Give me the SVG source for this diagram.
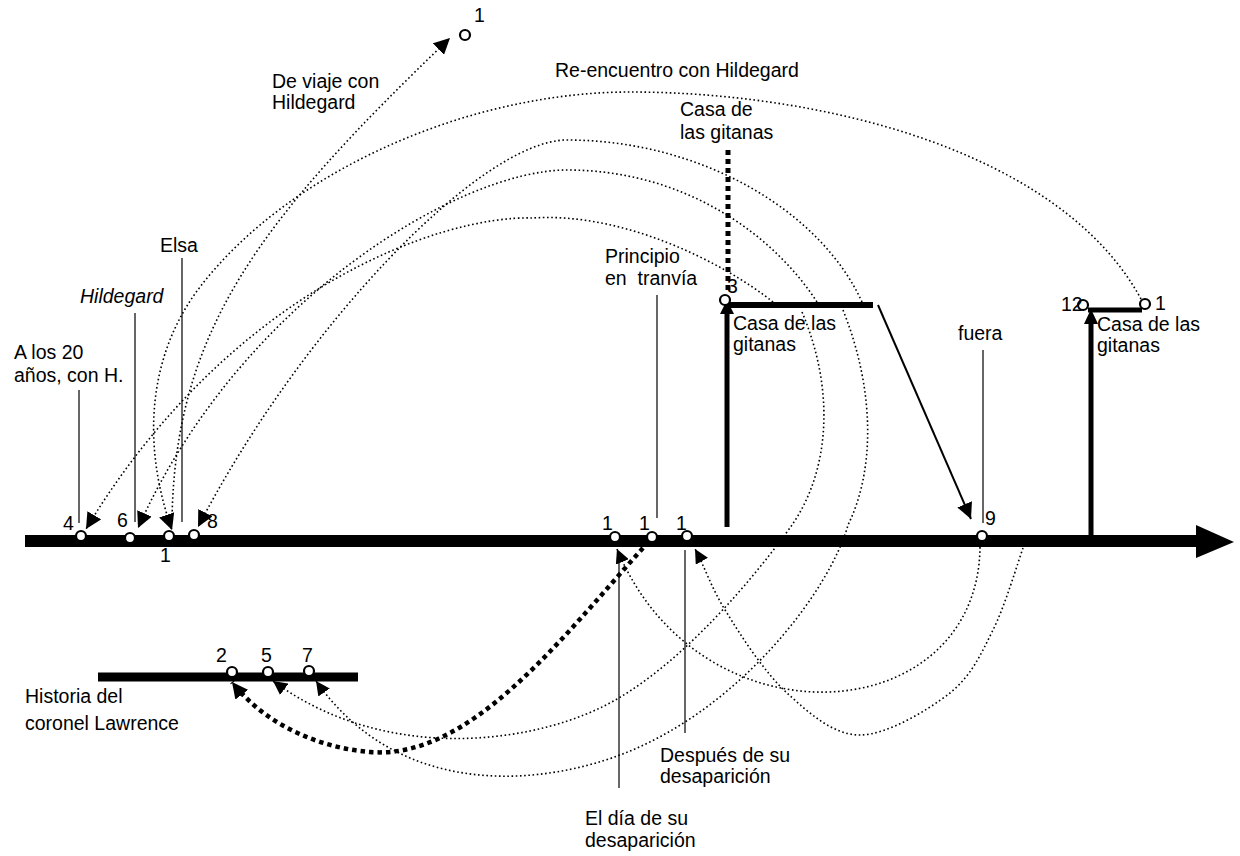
<svg xmlns="http://www.w3.org/2000/svg" width="1240" height="856" viewBox="0 0 1240 856">
<style>
.t{font-family:"Liberation Sans",Arial,Helvetica,sans-serif;font-size:19.5px;fill:#000}
.it{font-style:italic}
.dot{fill:none;stroke:#000;stroke-width:1.6;stroke-dasharray:1.6 2.6}
.tdot{fill:none;stroke:#000;stroke-width:4.5;stroke-dasharray:4.5 4}
.lead{stroke:#000;stroke-width:1.2;fill:none}
.node{fill:#fff;stroke:#000;stroke-width:2.2}
.bar{stroke:#000;fill:none}
</style>
<defs>
<marker id="ah" viewBox="0 0 16 16" markerWidth="16" markerHeight="16" refX="16" refY="8" orient="auto" markerUnits="userSpaceOnUse"><path d="M0,0 L16,8 L0,16 Z" fill="#000"/></marker>
<marker id="ahs" viewBox="0 0 16 16" markerWidth="14" markerHeight="14" refX="16" refY="8" orient="auto" markerUnits="userSpaceOnUse"><path d="M0,0 L16,8 L0,16 Z" fill="#000"/></marker>
</defs>
<rect width="1240" height="856" fill="#fff"/>

<g id="timeline">
<line class="bar" x1="25" y1="541" x2="1200" y2="541" stroke-width="12"/>
<polygon points="1196,525 1234,542 1196,558" fill="#000"/>
</g>

<g id="lawrence-line">
<line class="bar" x1="98" y1="677" x2="358" y2="677" stroke-width="9"/>
<text class="t" x="25" y="703">Historia del</text>
<text class="t" x="25" y="730">coronel Lawrence</text>
</g>

<g id="casa3">
<line class="bar" x1="727" y1="527" x2="727" y2="310" stroke-width="5"/>
<polygon points="720,314 727,300 734,314" fill="#000"/>
<line class="bar" x1="727" y1="305" x2="873" y2="305" stroke-width="6"/>
<text class="t" x="733" y="330">Casa de las</text>
<text class="t" x="733" y="351">gitanas</text>
</g>

<g id="casa12">
<line class="bar" x1="1091" y1="541" x2="1091" y2="318" stroke-width="5"/>
<polygon points="1084,324 1091,309 1098,324" fill="#000"/>
<line class="bar" x1="1088" y1="310" x2="1142" y2="310" stroke-width="5"/>
<text class="t" x="1097" y="331">Casa de las</text>
<text class="t" x="1097" y="352">gitanas</text>
</g>

<g id="casa-top">
<line x1="728" y1="150" x2="728" y2="292" stroke="#000" stroke-width="5" stroke-dasharray="5 4"/>
<text class="t" x="680" y="116">Casa de</text>
<text class="t" x="680" y="139">las gitanas</text>
</g>

<g id="n4"><circle class="node" cx="81" cy="536" r="5"/><text class="t" x="63" y="530">4</text></g>
<g id="n6"><circle class="node" cx="130" cy="538" r="5"/><text class="t" x="117" y="527">6</text></g>
<g id="n1a"><circle class="node" cx="169" cy="536" r="5"/><text class="t" x="160" y="562">1</text></g>
<g id="n8"><circle class="node" cx="194" cy="535" r="5"/><text class="t" x="207" y="528">8</text></g>
<g id="n1b"><circle class="node" cx="615" cy="537" r="5"/><text class="t" x="602" y="530">1</text></g>
<g id="n1c"><circle class="node" cx="652" cy="537" r="5"/><text class="t" x="639" y="530">1</text></g>
<g id="n1d"><circle class="node" cx="687" cy="536" r="5"/><text class="t" x="676" y="530">1</text></g>
<g id="n9"><circle class="node" cx="982" cy="536" r="5"/><text class="t" x="985" y="525">9</text></g>
<g id="n3"><circle class="node" cx="725" cy="300" r="5"/><text class="t" x="727" y="293">3</text></g>
<g id="n12"><circle class="node" cx="1083" cy="305" r="5"/><text class="t" x="1061" y="311">12</text></g>
<g id="n1r"><circle class="node" cx="1145" cy="304" r="5"/><text class="t" x="1155" y="310">1</text></g>
<g id="n1top"><circle class="node" cx="465" cy="35" r="5"/><text class="t" x="474" y="22">1</text></g>
<g id="n2"><circle class="node" cx="232" cy="672" r="5"/><text class="t" x="216" y="662">2</text></g>
<g id="n5"><circle class="node" cx="268" cy="672" r="5"/><text class="t" x="261" y="662">5</text></g>
<g id="n7"><circle class="node" cx="309" cy="671" r="5"/><text class="t" x="302" y="662">7</text></g>

<g id="labels">
<text class="t" x="555" y="77">Re-encuentro con Hildegard</text>
<text class="t" x="272" y="88">De viaje con</text>
<text class="t" x="272" y="109">Hildegard</text>
<text class="t" x="160" y="252">Elsa</text>
<line class="lead" x1="182" y1="258" x2="182" y2="522"/>
<text class="t it" x="80" y="303">Hildegard</text>
<line class="lead" x1="135" y1="313" x2="135" y2="522"/>
<text class="t" x="14" y="359">A los 20</text>
<text class="t" x="14" y="382">años, con H.</text>
<line class="lead" x1="79" y1="390" x2="79" y2="523"/>
<text class="t" x="605" y="263">Principio</text>
<text class="t" x="605" y="285" xml:space="preserve">en  tranvía</text>
<line class="lead" x1="657" y1="295" x2="657" y2="518"/>
<text class="t" x="958" y="340">fuera</text>
<line class="lead" x1="983" y1="350" x2="983" y2="523"/>
<line class="lead" x1="685" y1="550" x2="685" y2="733"/>
<text class="t" x="660" y="762">Después de su</text>
<text class="t" x="660" y="783">desaparición</text>
<line class="lead" x1="619" y1="557" x2="619" y2="788"/>
<text class="t" x="585" y="825">El día de su</text>
<text class="t" x="585" y="847">desaparición</text>
</g>

<g id="connectors">
<path class="dot" d="M172,520 C175,330 260,220 450,38" marker-end="url(#ah)"/>
<path class="dot" d="M1141,299 C1060,150 820,92 630,92 C470,92 290,170 200,287 C150,352 140,440 172,530" marker-end="url(#ah)"/>
<path class="dot" d="M773,302 C720,260 620,212 533,218 C440,215 230,290 86,529" marker-end="url(#ah)"/>
<path class="dot" d="M817,302 C770,230 680,170 567,170 C460,170 240,300 138,528" marker-end="url(#ah)"/>
<path class="dot" d="M862,302 C820,210 700,140 567,140 C480,140 300,330 198,527" marker-end="url(#ah)"/>
<path class="dot" d="M802,312 C835,390 830,470 792,525 C760,570 680,670 600,708 C520,746 380,760 273,681" marker-end="url(#ahs)"/>
<path class="dot" d="M843,310 C875,390 875,470 848,525 C830,590 740,710 620,755 C540,785 400,800 316,681" marker-end="url(#ahs)"/>
<path class="dot" d="M980,547 C978,730 700,750 617,549" marker-end="url(#ahs)"/>
<path class="dot" d="M1023,548 C1018,562 1005,606 993,630 C981,654 972,675 950,693 C928,710 887,735 860,735 C833,735 809,713 787,693 C765,673 741,636 727,613 C712,590 704,565 695,549" marker-end="url(#ahs)"/>
<path class="tdot" d="M643,548 C560,640 470,760 370,752 C320,748 265,725 232,682" marker-end="url(#ah)"/>
<line x1="878" y1="305" x2="971" y2="519" stroke="#000" stroke-width="2" marker-end="url(#ah)"/>
</g>
</svg>
